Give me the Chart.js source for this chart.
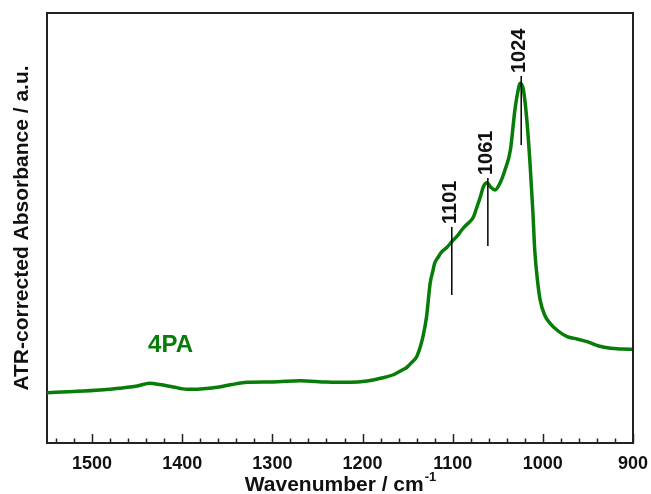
<!DOCTYPE html>
<html><head><meta charset="utf-8">
<script src="https://cdn.jsdelivr.net/npm/chart.js@4"></script>
<style>html,body{margin:0;padding:0;background:#fff}#wrap{width:651px;height:494px}</style>
</head><body><div id="wrap"><canvas id="c" width="651" height="494"></canvas></div>
<script>
const wavenumbers = [1550,1520,1491,1470,1450,1436,1425,1410,1395,1380,1361,1345,1328,1300,1269,1240,1214,1195,1180,1165,1156,1151,1145,1140,1136,1133,1129,1125,1122,1120,1116,1112,1106,1101,1095,1090,1085,1081,1077,1073,1069,1066,1062,1058,1053,1048,1042,1036,1031,1028,1025,1022,1020,1017,1014,1011,1009,1006,1003,998,992,983,973,962,951,938,925,912,900];
const absorbance = [50.3,51.5,53,54.7,57,59.7,58.5,56,53.7,54,55.7,58.5,60.7,61,62.3,61,60.7,62,64.7,68.5,73,75.5,81,86.3,96,106.3,126.3,159.7,172,179.7,186,191.3,196,201.3,207,213,218,221.3,226,236.3,247,256.3,260.3,256,253,259,273,293,333,350,359.7,355,343,315,276.3,230,193,163,143,128,119.7,112,106.3,104,101.3,97,94.7,94,93.7];
const peakPositions = [1101, 1061, 1024];
const peakLabels = ['1101', '1061', '1024'];
const peakLineTop = [216, 265, 367];
const peakLineBottom = [148, 197, 298];
const sampleLabel = '4PA';
const sampleLabelPos = [1413, 98];
const xTitleMain = 'Wavenumber / cm';
const xTitleSup = '-1';
const yTitle = 'ATR-corrected Absorbance / a.u.';

const GREEN = 'rgb(8,124,8)';
const FONT = 'Arial, "Liberation Sans", sans-serif';

const decor = {
  id: 'decor',
  afterDraw(chart) {
    const {ctx, chartArea: a, scales: {x, y}} = chart;
    ctx.save();
    ctx.strokeStyle = '#222';
    ctx.lineWidth = 2;
    ctx.beginPath();
    ctx.moveTo(a.left, a.top); ctx.lineTo(a.right, a.top); ctx.lineTo(a.right, a.bottom);
    ctx.stroke();
    ctx.lineWidth = 1.5;
    ctx.beginPath();
    for (let v = 900; v <= 1540; v += 20) {
      const px = Math.round(x.getPixelForValue(v)) + 0.5;
      const len = (v % 100 === 0) ? 9 : 4.5;
      ctx.moveTo(px, a.bottom); ctx.lineTo(px, a.bottom - len);
    }
    ctx.stroke();
    // peak markers
    ctx.strokeStyle = '#000';
    ctx.lineWidth = 1.5;
    ctx.fillStyle = '#111';
    ctx.font = 'bold 20px ' + FONT;
    peakPositions.forEach((p, i) => {
      const px = x.getPixelForValue(p);
      const yt = y.getPixelForValue(peakLineTop[i]);
      const yb = y.getPixelForValue(peakLineBottom[i]);
      ctx.beginPath(); ctx.moveTo(px, yt); ctx.lineTo(px, yb); ctx.stroke();
      ctx.save();
      ctx.translate(px - 1.5, yt - 3);
      ctx.rotate(-Math.PI / 2);
      ctx.textAlign = 'left'; ctx.textBaseline = 'middle';
      ctx.fillText(peakLabels[i], 0, 0);
      ctx.restore();
    });
    // sample label
    ctx.fillStyle = GREEN;
    ctx.font = 'bold 24px ' + FONT;
    ctx.textAlign = 'center'; ctx.textBaseline = 'middle';
    ctx.fillText(sampleLabel, x.getPixelForValue(sampleLabelPos[0]), y.getPixelForValue(sampleLabelPos[1]));
    // x title with superscript
    ctx.fillStyle = '#111';
    ctx.textAlign = 'left'; ctx.textBaseline = 'alphabetic';
    ctx.font = 'bold 21px ' + FONT;
    const w1 = ctx.measureText(xTitleMain).width;
    ctx.font = 'bold 13px ' + FONT;
    const w2 = ctx.measureText(xTitleSup).width;
    const cx = (a.left + a.right) / 2;
    const sx = cx - (w1 + w2) / 2;
    ctx.font = 'bold 21px ' + FONT;
    ctx.fillText(xTitleMain, sx, 491);
    ctx.font = 'bold 13px ' + FONT;
    ctx.fillText(xTitleSup, sx + w1 + 1, 481);
    ctx.restore();
  }
};

new Chart(document.getElementById('c'), {
  type: 'line',
  data: {
    datasets: [{
      data: wavenumbers.map((w, i) => ({x: w, y: absorbance[i]})),
      borderColor: GREEN,
      borderWidth: 3.5,
      pointRadius: 0,
      fill: false,
      cubicInterpolationMode: 'monotone'
    }]
  },
  options: {
    responsive: false,
    animation: false,
    devicePixelRatio: 1,
    layout: {padding: {top: 13, right: 18, left: 0, bottom: 0}},
    plugins: {legend: {display: false}, tooltip: {enabled: false}},
    scales: {
      x: {
        type: 'linear', reverse: true, min: 900, max: 1550, position: 'bottom',
        grid: {display: false},
        border: {display: true, color: '#222', width: 2},
        ticks: {
          stepSize: 100, includeBounds: false, autoSkip: false, maxRotation: 0,
          padding: 2, color: '#111',
          font: {family: FONT, size: 18, weight: 'bold'},
          callback: v => String(v)
        },
        afterFit(s) { s.height = 51; s.paddingLeft = 0; s.paddingRight = 0; }
      },
      y: {
        min: 0, max: 430,
        grid: {display: false},
        border: {display: true, color: '#222', width: 2},
        ticks: {display: false},
        title: {display: true, text: yTitle, color: '#111', padding: {top: 10},
          font: {family: FONT, size: 21, weight: 'bold'}},
        afterFit(s) { s.width = 47; s.paddingTop = 0; s.paddingBottom = 0; }
      }
    }
  },
  plugins: [decor]
});
</script>
</body></html>
